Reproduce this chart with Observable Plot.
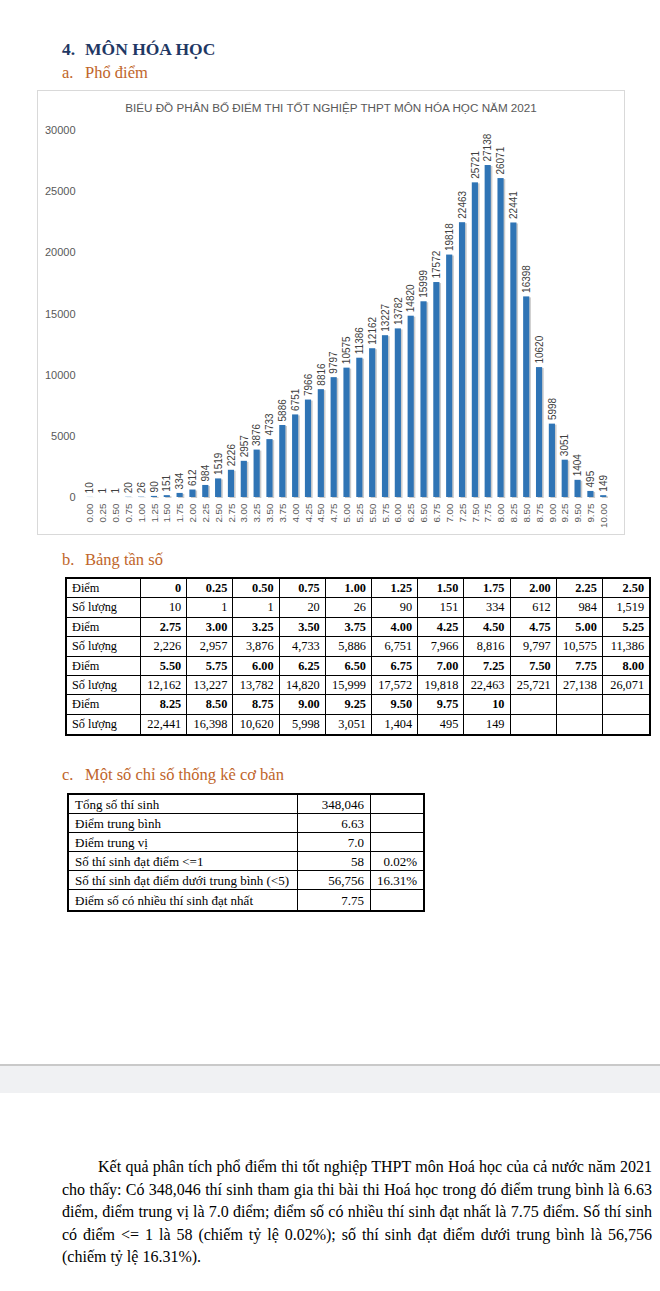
<!DOCTYPE html>
<html>
<head>
<meta charset="utf-8">
<script src="https://cdn.jsdelivr.net/npm/d3@7"></script>
<script src="https://cdn.jsdelivr.net/npm/@observablehq/plot@0.6"></script>
<style>
  html, body { margin: 0; padding: 0; background: #fff; }
  body { width: 660px; height: 1291px; position: relative; overflow: hidden;
         font-family: "Liberation Serif", "Times New Roman", serif; color: #000; }
  .abs { position: absolute; white-space: nowrap; }
  .lab { display: inline-block; width: 23px; }
  .h1 { left: 62px; top: 38px; font-size: 17.5px; font-weight: bold; color: #1f3864; line-height: 22px; }
  .h2 { left: 62px; font-size: 16.5px; color: #c0652a; line-height: 22px; }
  #box { left: 37px; top: 90px; width: 588px; height: 445px; border: 1px solid #d9d9d9; box-sizing: border-box; }
  #ctitle { left: 37px; top: 101px; width: 588px; text-align: center; font-family: "Liberation Sans", Arial, sans-serif;
            font-size: 11.7px; line-height: 14px; color: #595959; }
  #chart { left: 37px; top: 118px; width: 588px; height: 417px; }
  table { border-collapse: separate; border-spacing: 0; table-layout: fixed; border: 2px solid #000; }
  td { padding: 0 6px; border-right: 1px solid #000; border-bottom: 1px solid #000; white-space: nowrap;
       overflow: hidden; line-height: 1; text-align: right; }
  td:last-child { border-right: none; }
  tr:last-child td { border-bottom: none; }
  td.first { text-align: left; }
  #freq { left: 65px; top: 577px; width: 583px; font-size: 12.3px; }
  #freq td { padding: 0 5px; }
  #freq tr { height: 19.4px; }
  #freq tr.sc td { font-weight: bold; }
  #stats { left: 67px; top: 793px; width: 358px; font-size: 13px; }
  #stats tr { height: 19.1px; }
  #band { left: 0; top: 1064px; width: 660px; height: 29px; background: #f0f1f3; border-top: 2px solid #c9c9c9; box-sizing: border-box; }
  #para { left: 62px; top: 1156px; width: 590px; font-size: 16px; line-height: 22.6px; white-space: normal; }
  #para div { text-align: justify; text-align-last: justify; white-space: nowrap; }
  #para div.last { text-align-last: left; }
  #para div.ind { padding-left: 36px; }
</style>
</head>
<body>
<div class="abs h1"><span class="lab">4.</span>MÔN HÓA HỌC</div>
<div class="abs h2" style="top:62px"><span class="lab">a.</span>Phổ điểm</div>
<div class="abs" id="box"></div>
<div class="abs" id="ctitle"></div>
<div class="abs" id="chart"></div>
<div class="abs h2" style="top:549px"><span class="lab">b.</span>Bảng tần số</div>
<table class="abs" id="freq"></table>
<div class="abs h2" style="top:764px"><span class="lab">c.</span>Một số chỉ số thống kê cơ bản</div>
<table class="abs" id="stats"></table>
<div class="abs" id="band"></div>
<div class="abs" id="para"></div>

<script>
// ---- data ----
const chartTitle = "BIỂU ĐỒ PHÂN BỐ ĐIỂM THI TỐT NGHIỆP THPT MÔN HÓA HỌC NĂM 2021";
const scores = ["0.00","0.25","0.50","0.75","1.00","1.25","1.50","1.75","2.00","2.25","2.50",
                "2.75","3.00","3.25","3.50","3.75","4.00","4.25","4.50","4.75","5.00","5.25",
                "5.50","5.75","6.00","6.25","6.50","6.75","7.00","7.25","7.50","7.75","8.00",
                "8.25","8.50","8.75","9.00","9.25","9.50","9.75","10.00"];
const counts = [10,1,1,20,26,90,151,334,612,984,1519,
                2226,2957,3876,4733,5886,6751,7966,8816,9797,10575,11386,
                12162,13227,13782,14820,15999,17572,19818,22463,25721,27138,26071,
                22441,16398,10620,5998,3051,1404,495,149];
const tableScores = ["0","0.25","0.50","0.75","1.00","1.25","1.50","1.75","2.00","2.25","2.50",
                "2.75","3.00","3.25","3.50","3.75","4.00","4.25","4.50","4.75","5.00","5.25",
                "5.50","5.75","6.00","6.25","6.50","6.75","7.00","7.25","7.50","7.75","8.00",
                "8.25","8.50","8.75","9.00","9.25","9.50","9.75","10"];
const yTicks = [0,5000,10000,15000,20000,25000,30000];
const rowLabelScore = "Điểm";
const rowLabelCount = "Số lượng";
const statLabels = ["Tổng số thí sinh","Điểm trung bình","Điểm trung vị","Số thí sinh đạt điểm <=1",
                    "Số thí sinh đạt điểm dưới trung bình (<5)","Điểm số có nhiều thí sinh đạt nhất"];
const statValues = ["348,046","6.63","7.0","58","56,756","7.75"];
const statPercents = ["","","","0.02%","16.31%",""];
const paraLines = [
  "Kết quả phân tích phổ điểm thi tốt nghiệp THPT môn Hoá học của cả nước năm 2021",
  "cho thấy: Có 348,046 thí sinh tham gia thi bài thi Hoá học trong đó điểm trung bình là 6.63",
  "điểm, điểm trung vị là 7.0 điểm; điểm số có nhiều thí sinh đạt nhất là 7.75 điểm. Số thí sinh",
  "có điểm <= 1 là 58 (chiếm tỷ lệ 0.02%); số thí sinh đạt điểm dưới trung bình là 56,756",
  "(chiếm tỷ lệ 16.31%)."
];

// ---- chart ----
document.getElementById("ctitle").textContent = chartTitle;
const data = scores.map((s, i) => ({score: s, count: counts[i]}));
const plot = Plot.plot({
  width: 588, height: 417,
  marginTop: 12, marginBottom: 38, marginLeft: 43, marginRight: 12,
  style: {fontFamily: "'Liberation Sans', Arial, sans-serif", color: "#595959", background: "transparent", overflow: "visible"},
  x: {type: "band", domain: scores, padding: 0.52, label: null},
  y: {domain: [0, 30000], label: null},
  marks: [
    Plot.barY(data, {x: "score", y: "count", fill: "#7f7f7f", fillOpacity: 0.4, dx: 1.6, dy: 1}),
    Plot.barY(data, {x: "score", y: "count", fill: "#2f74b5"}),
    Plot.text(data, {x: "score", y: "count", text: d => String(d.count), rotate: -90, textAnchor: "start",
                     dy: -4, fontSize: 10, fill: "#404040"}),
    Plot.axisY({ticks: yTicks, tickSize: 0, tickPadding: 5, fontSize: 11, tickFormat: d => String(d), label: null}),
    Plot.axisX({tickRotate: -90, tickSize: 0, tickPadding: 6, fontSize: 9.8, label: null})
  ]
});
document.getElementById("chart").appendChild(plot);

// ---- frequency table ----
const fmt = d3.format(",");
const freq = document.getElementById("freq");
const cg = document.createElement("colgroup");
cg.innerHTML = '<col style="width:74px">' + '<col style="width:46.2px">'.repeat(11);
freq.appendChild(cg);
for (let b = 0; b < 4; b++) {
  const trS = document.createElement("tr"); trS.className = "sc";
  const trC = document.createElement("tr");
  trS.innerHTML = `<td class="first" style="font-weight:normal">${rowLabelScore}</td>`;
  trC.innerHTML = `<td class="first">${rowLabelCount}</td>`;
  for (let j = 0; j < 11; j++) {
    const i = b * 11 + j;
    trS.innerHTML += `<td>${i < tableScores.length ? tableScores[i] : ""}</td>`;
    trC.innerHTML += `<td>${i < counts.length ? fmt(counts[i]) : ""}</td>`;
  }
  freq.appendChild(trS); freq.appendChild(trC);
}

// ---- stats table ----
const stats = document.getElementById("stats");
const cg2 = document.createElement("colgroup");
cg2.innerHTML = '<col style="width:229px"><col style="width:73px"><col>';
stats.appendChild(cg2);
statLabels.forEach((l, i) => {
  const tr = document.createElement("tr");
  const td1 = document.createElement("td"); td1.className = "first"; td1.textContent = l;
  const td2 = document.createElement("td"); td2.textContent = statValues[i];
  const td3 = document.createElement("td"); td3.textContent = statPercents[i];
  tr.append(td1, td2, td3); stats.appendChild(tr);
});

// ---- paragraph ----
const para = document.getElementById("para");
paraLines.forEach((t, i) => {
  const d = document.createElement("div");
  d.textContent = t;
  if (i === 0) d.className = "ind";
  if (i === paraLines.length - 1) d.className = "last";
  para.appendChild(d);
});
</script>
</body>
</html>
